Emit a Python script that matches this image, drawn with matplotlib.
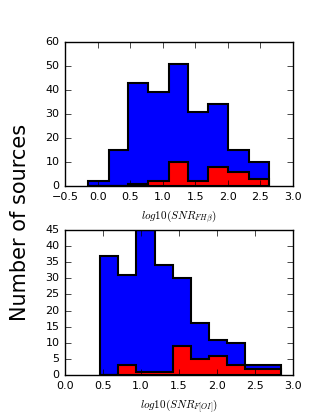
import numpy as np
import matplotlib
matplotlib.use('Agg')
import matplotlib.pyplot as plt

plt.style.use('classic')

# top panel: log10(SNR) of the H-beta flux
edges1 = [-0.14, 0.17, 0.47, 0.78, 1.09, 1.39, 1.70, 2.01, 2.32, 2.63]
all1 = [2, 15, 43, 39, 51, 31, 34, 15, 10]
sel1 = [0, 0, 1, 2, 10, 2, 8, 6, 3]

# bottom panel: log10(SNR) of the [OI] flux
edges2 = [0.456, 0.697, 0.938, 1.18, 1.42, 1.66, 1.90, 2.13, 2.37, 2.61, 2.84]
all2 = [37, 31, 45, 34, 30, 16, 11, 10, 3, 3]
sel2 = [0, 3, 1, 1, 9, 5, 6, 3, 2, 2]

fig = plt.figure(figsize=(3.25, 4.17), dpi=100)
fig.patch.set_facecolor('white')

ax1 = fig.add_axes([0.2, 0.554, 0.7015, 0.345])
ax2 = fig.add_axes([0.2, 0.1007, 0.7015, 0.348])

def draw(ax, edges, a, s):
    e = np.array(edges)
    ax.hist(e[:-1], bins=e, weights=a, histtype='stepfilled',
            facecolor='blue', edgecolor='k', lw=1.5)
    ax.hist(e[:-1], bins=e, weights=s, histtype='stepfilled',
            facecolor='red', edgecolor='k', lw=1.5)
    ax.tick_params(labelsize=8)

draw(ax1, edges1, all1, sel1)
ax1.set_xlim(-0.5, 3.0)
ax1.set_ylim(0, 60)
ax1.set_xlabel(r'$log10(SNR_{FH\beta})$', fontsize=8)

draw(ax2, edges2, all2, sel2)
ax2.set_xlim(0, 3.0)
ax2.set_ylim(0, 45)
ax2.set_yticks(np.arange(0, 46, 5))
ax2.set_xlabel(r'$log10(SNR_{F[OI]})$', fontsize=8)

fig.text(0.062, 0.467, 'Number of sources', rotation=90, fontsize=15,
         ha='center', va='center')

fig.savefig('out.png', dpi=100, facecolor='white')
